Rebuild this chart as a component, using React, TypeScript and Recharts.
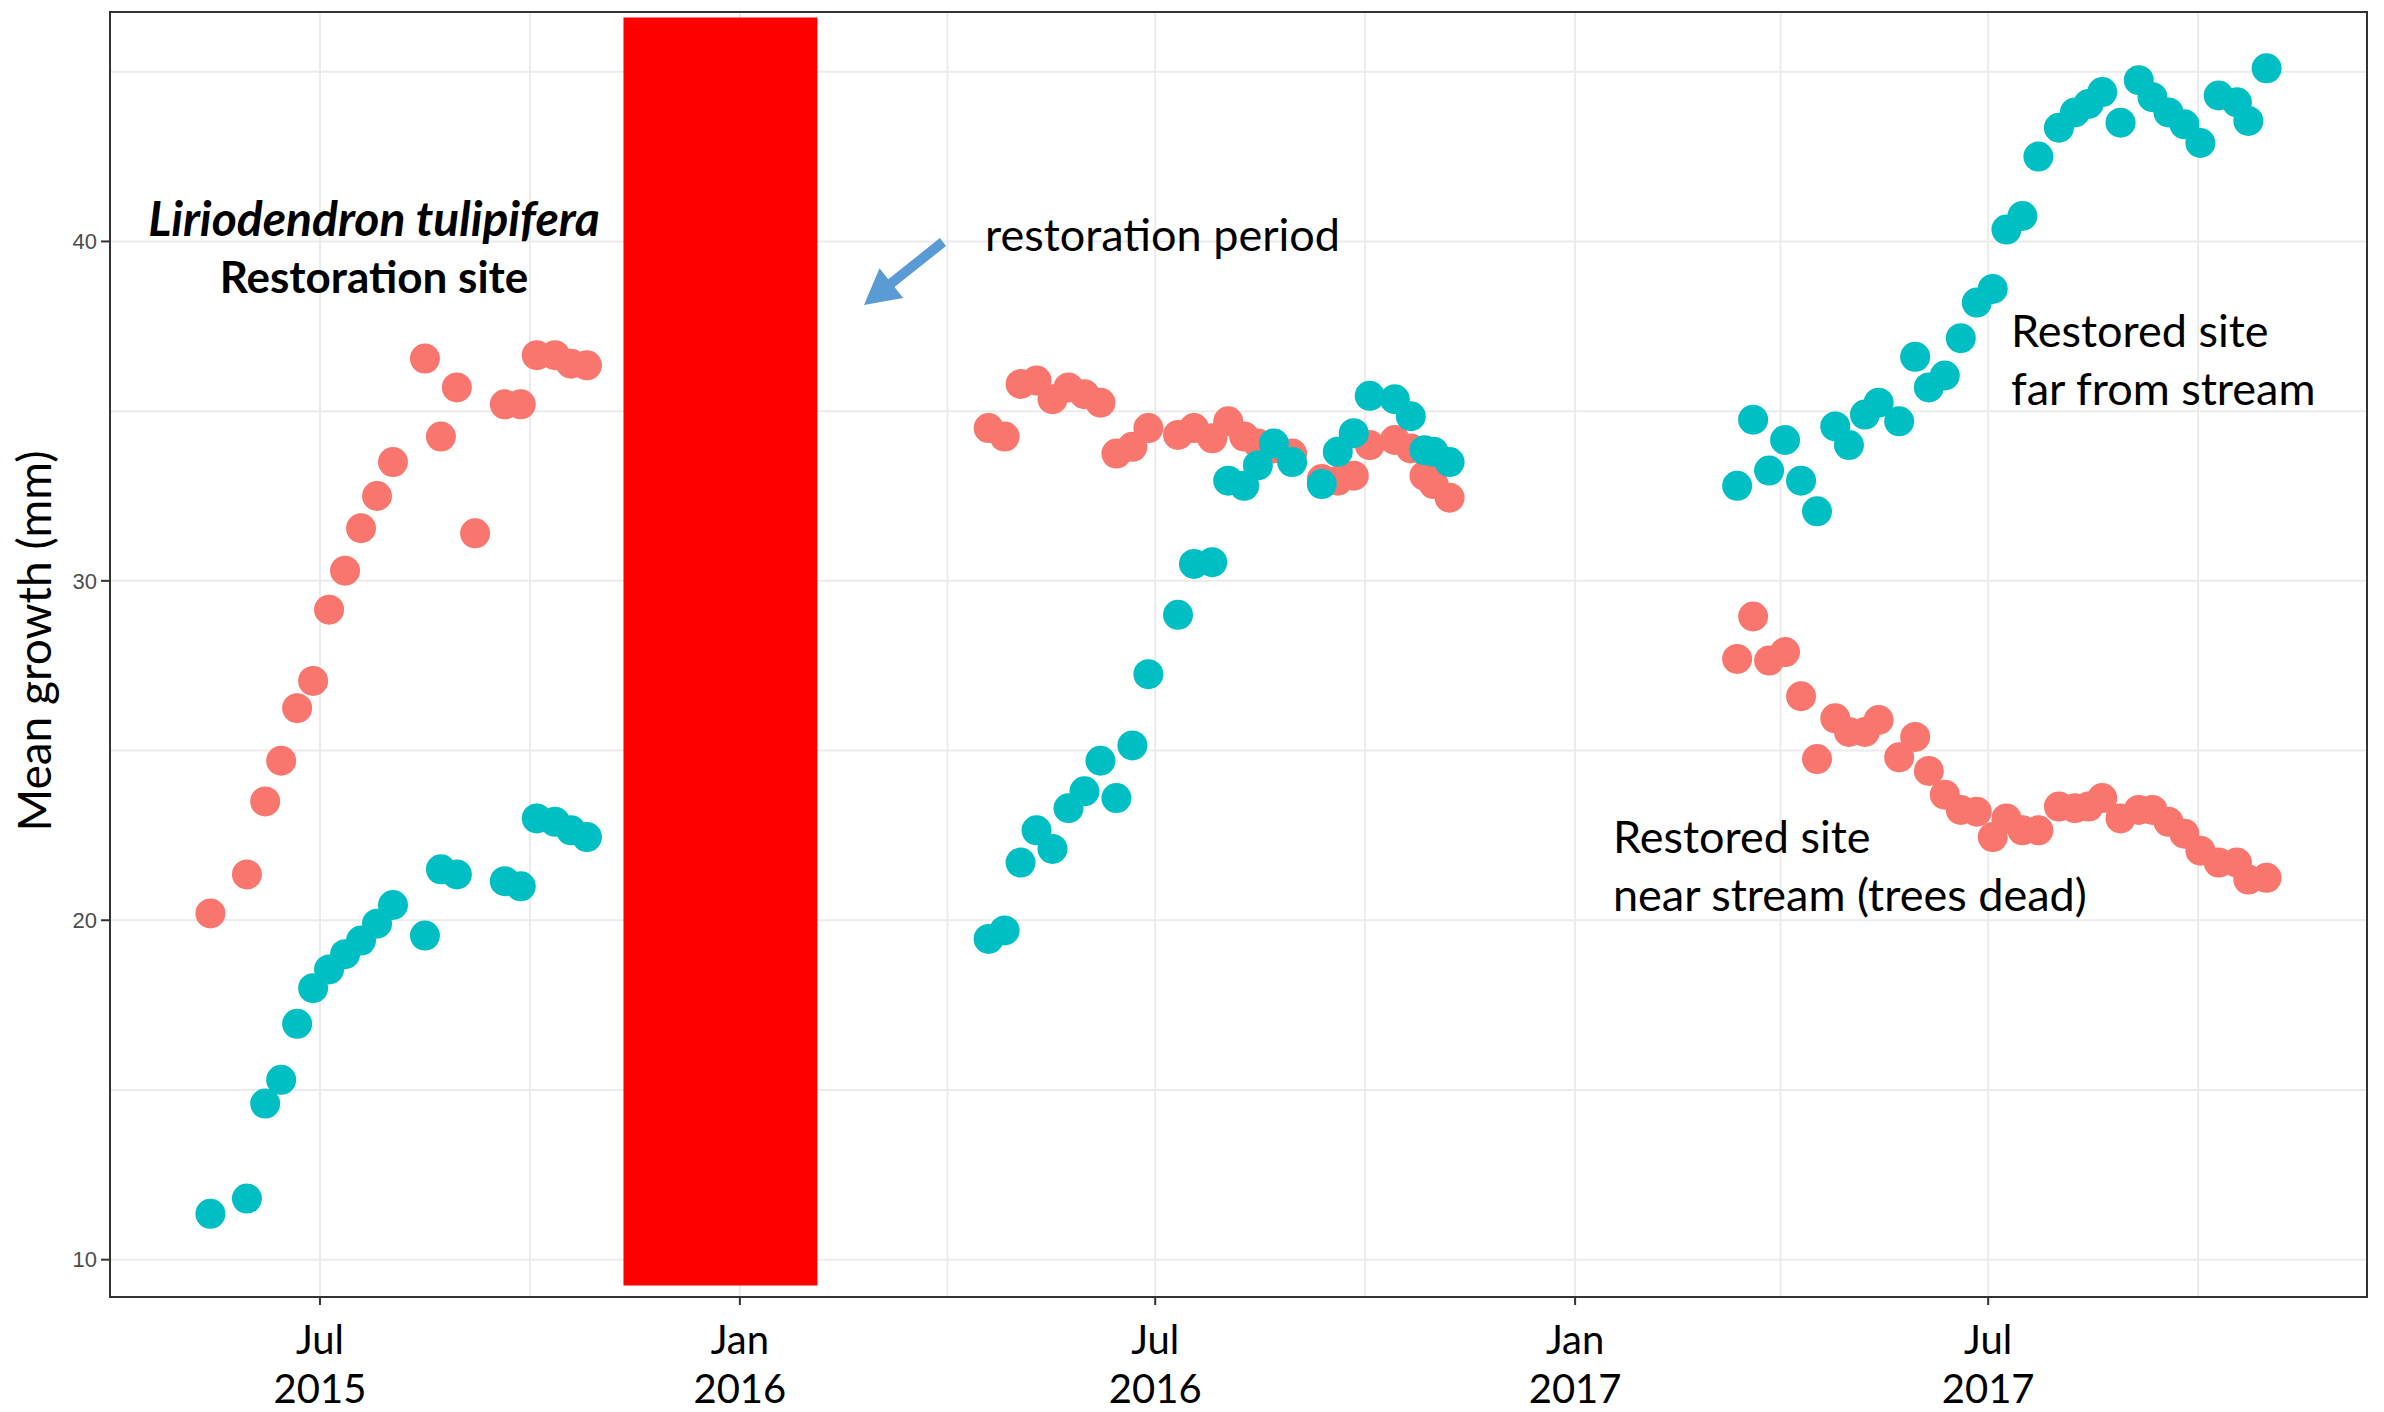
import React from "react";
import { ScatterChart, Scatter, XAxis, YAxis, CartesianGrid, ReferenceArea } from "recharts";

// sampling dates per season, and mean growth (mm) of the two plot groups
const dates2015 = ["2015-05-14", "2015-05-30", "2015-06-07", "2015-06-14", "2015-06-21", "2015-06-28", "2015-07-05", "2015-07-12", "2015-07-19", "2015-07-26", "2015-08-02", "2015-08-16", "2015-08-23", "2015-08-30", "2015-09-07", "2015-09-20", "2015-09-27", "2015-10-04", "2015-10-12", "2015-10-19", "2015-10-26"];
const near2015 = [20.2, 21.35, 23.5, 24.7, 26.25, 27.05, 29.15, 30.3, 31.55, 32.5, 33.5, 36.55, 34.25, 35.7, 31.4, 35.2, 35.2, 36.65, 36.65, 36.4, 36.35];
const far2015 = [11.35, 11.8, 14.6, 15.3, 16.95, 18.0, 18.55, 19.0, 19.4, 19.9, 20.45, 19.55, 21.5, 21.35, null, 21.15, 21.0, 23.0, 22.9, 22.65, 22.45];

const dates2016 = ["2016-04-19", "2016-04-26", "2016-05-03", "2016-05-10", "2016-05-17", "2016-05-24", "2016-05-31", "2016-06-07", "2016-06-14", "2016-06-21", "2016-06-28", "2016-07-11", "2016-07-18", "2016-07-26", "2016-08-02", "2016-08-09", "2016-08-15", "2016-08-22", "2016-08-30", "2016-09-12", "2016-09-19", "2016-09-26", "2016-10-03", "2016-10-14", "2016-10-21", "2016-10-27", "2016-10-31", "2016-11-07"];
const near2016 = [34.5, 34.25, 35.8, 35.9, 35.35, 35.7, 35.5, 35.25, 33.75, 33.95, 34.5, 34.3, 34.5, 34.2, 34.7, 34.25, 34.05, 33.9, 33.75, 33.0, 32.95, 33.1, 34.0, 34.15, 33.9, 33.1, 32.85, 32.45];
const far2016 = [19.45, 19.7, 21.7, 22.65, 22.1, 23.3, 23.8, 24.7, 23.6, 25.15, 27.25, 29.0, 30.5, 30.55, 32.95, 32.8, 33.4, 34.05, 33.5, 32.85, 33.8, 34.35, 35.45, 35.35, 34.85, 33.85, 33.8, 33.5];

const dates2017 = ["2017-03-13", "2017-03-20", "2017-03-27", "2017-04-03", "2017-04-10", "2017-04-17", "2017-04-25", "2017-05-01", "2017-05-08", "2017-05-14", "2017-05-23", "2017-05-30", "2017-06-05", "2017-06-12", "2017-06-19", "2017-06-26", "2017-07-03", "2017-07-09", "2017-07-16", "2017-07-23", "2017-08-01", "2017-08-08", "2017-08-14", "2017-08-20", "2017-08-28", "2017-09-05", "2017-09-11", "2017-09-18", "2017-09-25", "2017-10-02", "2017-10-10", "2017-10-18", "2017-10-23", "2017-10-31"];
const near2017 = [27.7, 28.95, 27.65, 27.9, 26.6, 24.75, 25.95, 25.55, 25.55, 25.9, 24.8, 25.4, 24.4, 23.7, 23.25, 23.2, 22.45, 23.0, 22.65, 22.65, 23.35, 23.3, 23.35, 23.6, 23.0, 23.25, 23.25, 22.9, 22.55, 22.05, 21.7, 21.7, 21.2, 21.25];
const far2017 = [32.8, 34.75, 33.25, 34.15, 32.95, 32.05, 34.55, 34.0, 34.9, 35.25, 34.7, 36.6, 35.7, 36.05, 37.15, 38.2, 38.6, 40.35, 40.75, 42.5, 43.35, 43.8, 44.05, 44.4, 43.5, 44.75, 44.25, 43.8, 43.45, 42.9, 44.3, 44.1, 43.55, 45.1];

// restoration works (red block)
const restorationStart = "2015-11-11";
const restorationEnd = "2016-02-04";
const restorationLow = 9.24;
const restorationHigh = 46.6;

// axes
const xRange = ["2015-03-31", "2017-12-14"];
const xTickDates = ["2015-07-01", "2016-01-01", "2016-07-01", "2017-01-01", "2017-07-01"];
const xTickMonths = ["Jul", "Jan", "Jul", "Jan", "Jul"];
const xTickYears = ["2015", "2016", "2016", "2017", "2017"];
const xMinorDates = ["2015-10-01", "2016-04-01", "2016-10-01", "2017-04-01", "2017-10-01"];
const yRange = [8.9, 46.76];
const yTicks = [10, 20, 30, 40];
const yMinor = [15, 25, 35, 45];

const NEAR = "#F8766D";
const FAR = "#00BFC4";
const FONT = "Lato, 'Open Sans', sans-serif";

const day = (s: string) => Date.parse(s + "T00:00:00Z");

const toPoints = (dates: string[], vals: (number | null)[]) =>
  dates.map((d, i) => ({ x: day(d), y: vals[i] })).filter((p) => p.y != null);

const nearData = [...toPoints(dates2015, near2015), ...toPoints(dates2016, near2016), ...toPoints(dates2017, near2017)];
const farData = [...toPoints(dates2015, far2015), ...toPoints(dates2016, far2016), ...toPoints(dates2017, far2017)];

const dot = (color: string) => (p: any) => <circle cx={p.cx} cy={p.cy} r={15} fill={color} />;

const XTick = ({ x, y, index }: any) => (
  <text x={x} y={y} textAnchor="middle" fontFamily={FONT} fontSize={40} fill="#000">
    <tspan x={x} dy={49}>{xTickMonths[index]}</tspan>
    <tspan x={x} dy={49}>{xTickYears[index]}</tspan>
  </text>
);

// blue annotation arrow, built from tail / tip
function arrowPoints(tail: number[], tip: number[], shaft: number, headLen: number, headHalf: number) {
  const dx = tip[0] - tail[0];
  const dy = tip[1] - tail[1];
  const len = Math.hypot(dx, dy);
  const ux = dx / len, uy = dy / len;
  const nx = -uy, ny = ux;
  const bx = tip[0] - ux * headLen, by = tip[1] - uy * headLen;
  const pts = [
    [tail[0] + nx * shaft, tail[1] + ny * shaft],
    [bx + nx * shaft, by + ny * shaft],
    [bx + nx * headHalf, by + ny * headHalf],
    tip,
    [bx - nx * headHalf, by - ny * headHalf],
    [bx - nx * shaft, by - ny * shaft],
    [tail[0] - nx * shaft, tail[1] - ny * shaft],
  ];
  return pts.map((p) => p.join(",")).join(" ");
}

export default function App() {
  const xDomain = [day(xRange[0]), day(xRange[1])];
  return (
    <div style={{ position: "absolute", left: 0, top: 0, width: 2384, height: 1412, background: "#fff" }}>
      <ScatterChart width={2384} height={1412} margin={{ top: 12, right: 17, bottom: 15, left: 0 }}>
        <CartesianGrid
          stroke="#EBEBEB"
          strokeWidth={2}
          horizontalValues={[...yTicks, ...yMinor]}
          verticalValues={[...xTickDates, ...xMinorDates].map(day)}
        />
        <XAxis
          type="number"
          dataKey="x"
          domain={xDomain}
          ticks={xTickDates.map(day)}
          allowDataOverflow
          height={100}
          axisLine={false}
          tickLine={{ stroke: "#333", strokeWidth: 2 }}
          tickSize={8}
          tickMargin={0}
          tick={<XTick />}
          interval={0}
        />
        <YAxis
          type="number"
          dataKey="y"
          domain={yRange}
          ticks={yTicks}
          allowDataOverflow
          width={110}
          axisLine={false}
          tickLine={{ stroke: "#333", strokeWidth: 2 }}
          tickSize={9}
          tickMargin={4}
          tick={{ fill: "#4D4D4D", fontSize: 22, fontFamily: "'Liberation Sans', Arial, sans-serif" }}
          interval={0}
        />
        <ReferenceArea
          x1={day(restorationStart)}
          x2={day(restorationEnd)}
          y1={restorationLow}
          y2={restorationHigh}
          fill="#FF0000"
          fillOpacity={1}
          stroke="none"
        />
        <Scatter name="near stream" data={nearData} fill={NEAR} shape={dot(NEAR)} isAnimationActive={false} />
        <Scatter name="far from stream" data={farData} fill={FAR} shape={dot(FAR)} isAnimationActive={false} />
        <ReferenceArea
          x1={xDomain[0]}
          x2={xDomain[1]}
          y1={yRange[0]}
          y2={yRange[1]}
          fill="none"
          stroke="#333333"
          strokeWidth={2}
        />
      </ScatterChart>
      <svg width={2384} height={1412} style={{ position: "absolute", left: 0, top: 0, pointerEvents: "none" }}>
        <g fontFamily={FONT} fontSize={45} fill="#000">
          <text x={374} y={236} textAnchor="middle" fontWeight="bold" fontStyle="italic" fontSize={48}>Liriodendron tulipifera</text>
          <text x={374} y={293} textAnchor="middle" fontWeight="bold" fontSize={44}>Restoration site</text>
          <text x={985} y={251}>restoration period</text>
          <text x={2011} y={347}>Restored site</text>
          <text x={2011} y={405}>far from stream</text>
          <text x={1613} y={853}>Restored site</text>
          <text x={1613} y={911}>near stream (trees dead)</text>
          <text x={51} y={641} textAnchor="middle" fontSize={46} transform="rotate(-90 51 641)">Mean growth (mm)</text>
        </g>
        <polygon points={arrowPoints([943, 242], [864, 305], 5, 35, 19)} fill="#5B9BD5" />
      </svg>
    </div>
  );
}
